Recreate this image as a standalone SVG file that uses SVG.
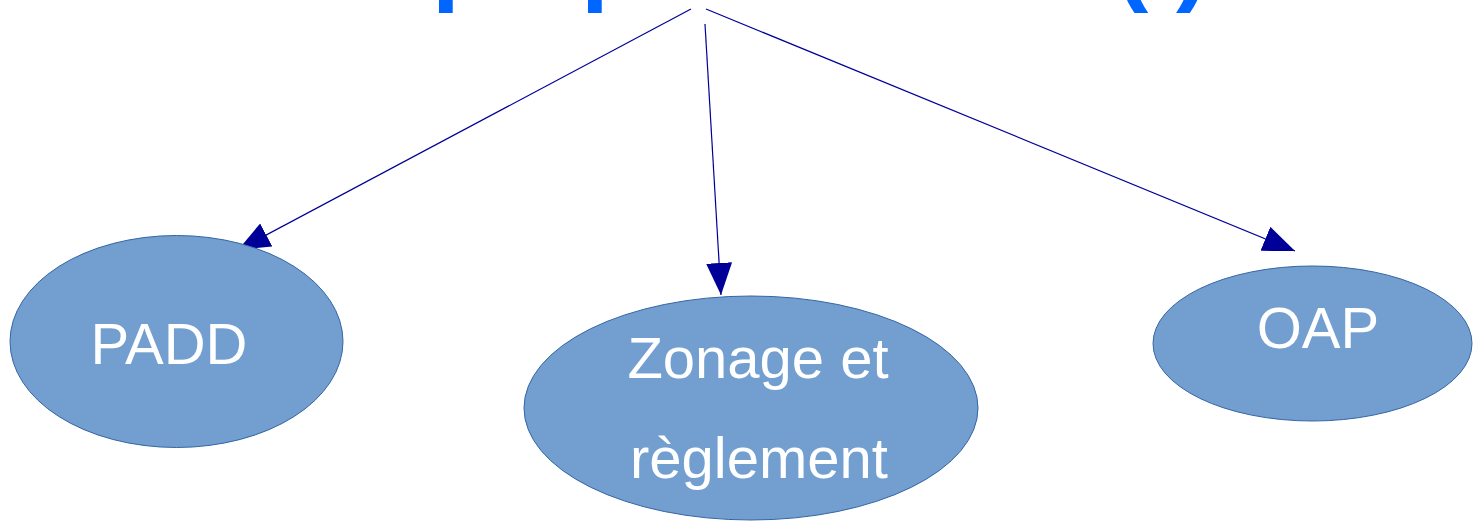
<svg xmlns="http://www.w3.org/2000/svg" width="1476" height="521" viewBox="0 0 1476 521">
  <style>
    .node ellipse { fill: #729fcf; stroke: #3465a4; stroke-width: 1; }
    .node text { fill: #ffffff; font-family: "Liberation Sans", Arial, sans-serif; font-size: 58px; text-anchor: middle; }
    .edge { fill: none; stroke: #000099; stroke-width: 1.2; marker-end: url(#arrow); }
    .title { fill: #0066ff; font-family: "Liberation Sans", Arial, sans-serif; font-size: 100px; font-weight: bold; }
  </style>
  <defs>
    <marker id="arrow" viewBox="0 0 32 26" markerWidth="32" markerHeight="26" refX="32" refY="13" orient="auto" markerUnits="userSpaceOnUse">
      <path d="M0,0 L32,13 L0,26 z" fill="#000099"/>
    </marker>
  </defs>

  <rect width="1476" height="521" fill="#ffffff"/>

  <!-- title, mostly above the visible area -->
  <text class="title" y="-8"><tspan x="432">p</tspan><tspan x="581">p</tspan><tspan x="1115">(</tspan><tspan x="1176">)</tspan></text>

  <g id="connectors">
    <path class="edge" d="M691,9 L238,250"/>
    <path class="edge" d="M705,24 L721,295"/>
    <path class="edge" d="M706,9 L1295,251"/>
  </g>

  <g id="padd" class="node">
    <ellipse cx="176.5" cy="341.5" rx="166.5" ry="106"/>
    <text x="169" y="364">PADD</text>
  </g>

  <g id="zonage" class="node">
    <ellipse cx="751" cy="408" rx="227" ry="112"/>
    <text x="758" y="378">Zonage et</text>
    <text x="759" y="478">règlement</text>
  </g>

  <g id="oap" class="node">
    <ellipse cx="1312.5" cy="343.5" rx="159.5" ry="77.5"/>
    <text x="1318" y="348">OAP</text>
  </g>
</svg>
